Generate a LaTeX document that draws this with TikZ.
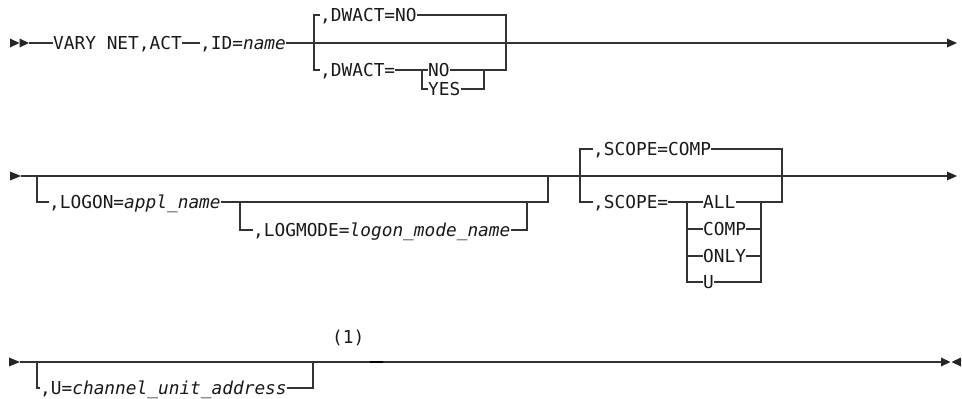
\documentclass[tikz,border=0pt]{standalone}
\usepackage{fontspec}
\setmainfont{DejaVu Sans Mono}[ItalicFont={DejaVu Sans Mono Oblique}]
\begin{document}
\begin{tikzpicture}[x=1pt,y=-1pt,
  lbl/.style={inner sep=0pt, anchor=west, text height=13pt, text depth=0pt,
    font=\fontsize{17.8}{20}\selectfont, text=black!90},
  ln/.style={draw=black!80, line width=1.3pt},
  tip/.style={fill=black!85},
  ]
\useasboundingbox (0,0) rectangle (962,399);

% ---------------- row 1 ----------------
\coordinate (r1s) at (29,43);
\coordinate (r1e) at (947,43);
\fill[tip] (10,38.5) -- (19.5,43) -- (10,47.5) -- cycle;
\fill[tip] (19.5,38.5) -- (29,43) -- (19.5,47.5) -- cycle;
\fill[tip] (947,38.5) -- (957,43) -- (947,47.5) -- cycle;
\node[lbl] (vary) at (53,43) {VARY NET,ACT};
\node[lbl] (id) at (200,43) {,ID=\textit{name}};
\draw[ln] (r1s) -- (vary.west);
\draw[ln] (vary.east) -- (id.west);
\draw[ln] (id.east) -- (r1e);

\coordinate (b1t) at (314,15);
\coordinate (b1b) at (314,70);
\coordinate (b1rt) at (506,15);
\coordinate (b1rb) at (506,70);
\node[lbl] (dwno) at (320,15) {,DWACT=NO};
\node[lbl] (dw) at (320,70) {,DWACT=};
\draw[ln] (dwno.west) -- (b1t) -- (b1b) -- (dw.west);
\coordinate (c1l) at (422,70);
\coordinate (c1lb) at (422,89);
\coordinate (c1r) at (484,70);
\coordinate (c1rb) at (484,89);
\node[lbl] (no) at (428,70) {NO};
\node[lbl] (yes) at (428,89) {YES};
\draw[ln] (dwno.east) -- (b1rt) -- (b1rb) -- (c1r);
\draw[ln] (dw.east) -- (no.west);
\draw[ln] (no.east) -- (c1r);
\draw[ln] (c1l) -- (c1lb) -- (yes.west);
\draw[ln] (yes.east) -- (c1rb) -- (c1r);

% ---------------- row 2 ----------------
\coordinate (r2s) at (21,176);
\coordinate (r2e) at (947,176);
\fill[tip] (10,171.5) -- (21,176) -- (10,180.5) -- cycle;
\fill[tip] (947,171.5) -- (957,176) -- (947,180.5) -- cycle;
\draw[ln] (r2s) -- (r2e);

\coordinate (b2t) at (37,176);
\coordinate (b2b) at (37,202);
\coordinate (b2r) at (548,202);
\coordinate (b2rt) at (548,176);
\node[lbl] (logon) at (49,202) {,LOGON=\textit{appl\_name}};
\draw[ln] (b2t) -- (b2b) -- (logon.west);
\draw[ln] (logon.east) -- (b2r) -- (b2rt);

\coordinate (b3t) at (240,202);
\coordinate (b3b) at (240,230);
\coordinate (b3r) at (527,230);
\coordinate (b3rt) at (527,202);
\node[lbl] (logmode) at (253,230) {,LOGMODE=\textit{logon\_mode\_name}};
\draw[ln] (b3t) -- (b3b) -- (logmode.west);
\draw[ln] (logmode.east) -- (b3r) -- (b3rt);

\coordinate (b4t) at (580,149);
\coordinate (b4b) at (580,202);
\coordinate (b4rt) at (782,149);
\coordinate (b4rb) at (782,202);
\coordinate (c4l) at (687,202);
\coordinate (c4l2) at (687,229);
\coordinate (c4l3) at (687,256);
\coordinate (c4l4) at (687,282);
\coordinate (c4r) at (761,202);
\coordinate (c4r2) at (761,229);
\coordinate (c4r3) at (761,256);
\coordinate (c4r4) at (761,282);
\node[lbl] (scomp) at (593,149) {,SCOPE=COMP};
\node[lbl] (sc) at (593,202) {,SCOPE=};
\draw[ln] (scomp.west) -- (b4t) -- (b4b) -- (sc.west);
\draw[ln] (scomp.east) -- (b4rt) -- (b4rb) -- (c4r);

\node[lbl] (all) at (703,202) {ALL};
\node[lbl] (comp) at (703,229) {COMP};
\node[lbl] (only) at (703,256) {ONLY};
\node[lbl] (u) at (703,282) {U};
\draw[ln] (sc.east) -- (all.west);
\draw[ln] (all.east) -- (c4r);
\draw[ln] (c4l) -- (c4l4) -- (u.west);
\draw[ln] (c4l2) -- (comp.west);
\draw[ln] (c4l3) -- (only.west);
\draw[ln] (u.east) -- (c4r4) -- (c4r);
\draw[ln] (comp.east) -- (c4r2);
\draw[ln] (only.east) -- (c4r3);

% ---------------- row 3 ----------------
\coordinate (r3s) at (20,362);
\coordinate (r3e) at (941,362);
\fill[tip] (9,357.5) -- (20,362) -- (9,366.5) -- cycle;
\fill[tip] (941,357.5) -- (950.5,362) -- (941,366.5) -- cycle;
\fill[tip] (961,357.5) -- (951.5,362) -- (961,366.5) -- cycle;
\draw[ln] (r3s) -- (r3e);
\coordinate (b5t) at (37,362);
\coordinate (b5b) at (37,388);
\coordinate (b5r) at (313,388);
\coordinate (b5rt) at (313,362);
\node[lbl] (uaddr) at (40,388) {,U=\textit{channel\_unit\_address}};
\draw[ln] (b5t) -- (b5b) -- (uaddr.west);
\draw[ln] (uaddr.east) -- (b5r) -- (b5rt);
\node[lbl] (note) at (332,337) {(1)};
\coordinate (d1) at (370,362);
\coordinate (d2) at (383,362);
\draw[draw=black, line width=2.6pt] (d1) -- (d2);
\end{tikzpicture}
\end{document}
